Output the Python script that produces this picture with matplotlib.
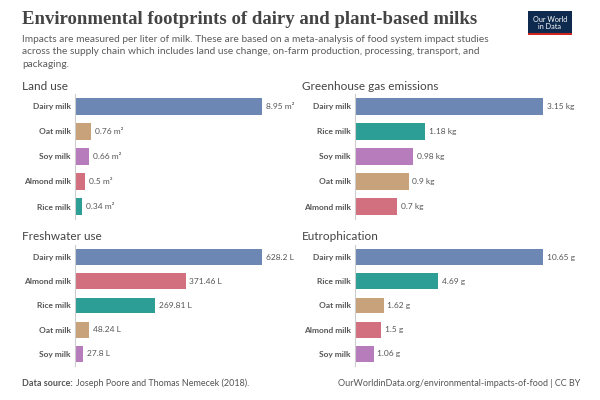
import matplotlib
matplotlib.use("Agg")
import matplotlib.pyplot as plt

land_cats = ["Dairy milk", "Oat milk", "Soy milk", "Almond milk", "Rice milk"]
land_vals = [8.95, 0.76, 0.66, 0.5, 0.34]
ghg_cats = ["Dairy milk", "Rice milk", "Soy milk", "Oat milk", "Almond milk"]
ghg_vals = [3.15, 1.18, 0.98, 0.9, 0.7]
water_cats = ["Dairy milk", "Almond milk", "Rice milk", "Oat milk", "Soy milk"]
water_vals = [628.2, 371.46, 269.81, 48.24, 27.8]
eut_cats = ["Dairy milk", "Rice milk", "Oat milk", "Almond milk", "Soy milk"]
eut_vals = [10.65, 4.69, 1.62, 1.5, 1.06]

colors = {"Dairy milk": "#6D87B4", "Oat milk": "#C8A27A", "Soy milk": "#B77CBB",
          "Almond milk": "#D3707F", "Rice milk": "#2C9E95"}

W, H = 600, 400
fig = plt.figure(figsize=(6, 4), dpi=100)
fig.patch.set_facecolor("white")
font = "Lato"
plt.rcParams["font.family"] = [font, "DejaVu Sans"]

fig.text(22/W, 1-20/H, "Environmental footprints of dairy and plant-based milks",
         family="Liberation Serif", fontsize=13.5, fontweight="bold", color="#444444", va="center")
fig.text(22/W, 1-35/H, "Impacts are measured per liter of milk. These are based on a meta-analysis of food system impact studies\n"
         "across the supply chain which includes land use change, on-farm production, processing, transport, and\npackaging.",
         fontsize=7.3, color="#5b5b5b", va="top", linespacing=1.5)
# logo
fig.patches.append(plt.Rectangle((528/W, 1-35/H), 44/W, 24/H, transform=fig.transFigure,
                                 facecolor="#0E2A4E", edgecolor="none"))
fig.patches.append(plt.Rectangle((528/W, 1-35/H), 44/W, 1.5/H, transform=fig.transFigure,
                                 facecolor="#CE261E", edgecolor="none"))
fig.text(550/W, 1-23/H, "Our World\nin Data", color="white", fontsize=5.2, ha="center", va="center",
         linespacing=1.0)

def panel(x0, xmax_px, ytop, step, title, cats, vals, unit, fmt):
    x_end = xmax_px
    ax = fig.add_axes([x0/W, 1-(ytop+5*step)/H, (x_end-x0)/W, 5*step/H])
    ax.set_xlim(0, max(vals))
    ax.set_ylim(4.5, -0.5)
    ax.barh(range(5), vals, height=0.66, color=[colors[c] for c in cats])
    for s in ["top", "right", "bottom"]:
        ax.spines[s].set_visible(False)
    ax.spines["left"].set_color("#cccccc")
    ax.set_xticks([])
    ax.set_yticks(range(5))
    ax.set_yticklabels(cats, fontsize=6.0, fontweight="bold", color="#555555")
    ax.tick_params(axis="y", length=0, pad=3)
    for i, v in enumerate(vals):
        ax.text(v + max(vals)*0.02, i, fmt(v) + unit, va="center", fontsize=6.0, color="#555555")
    ax.patch.set_alpha(0)
    fig.text((x0-53)/W, 1-(ytop-8)/H, title, fontsize=8.5, color="#444444", va="center")

def g(v):
    return f"{v:g}"

panel(75, 262, 94, 25, "Land use", land_cats, land_vals, " m²", g)
panel(355, 543, 94, 25, "Greenhouse gas emissions", ghg_cats, ghg_vals, " kg", g)
panel(75, 262, 245, 24.2, "Freshwater use", water_cats, water_vals, " L", g)
panel(355, 543, 245, 24.2, "Eutrophication", eut_cats, eut_vals, " g", g)

fig.text(22/W, 1-383/H, "Data source: ", fontsize=6.5, color="#555555", fontweight="bold", va="center")
fig.text(76/W, 1-383/H, "Joseph Poore and Thomas Nemecek (2018).", fontsize=6.5, color="#555555", va="center")
fig.text(580/W, 1-383/H, "OurWorldinData.org/environmental-impacts-of-food | CC BY", fontsize=6.5,
         color="#555555", va="center", ha="right")

fig.savefig("out.png", dpi=100)
